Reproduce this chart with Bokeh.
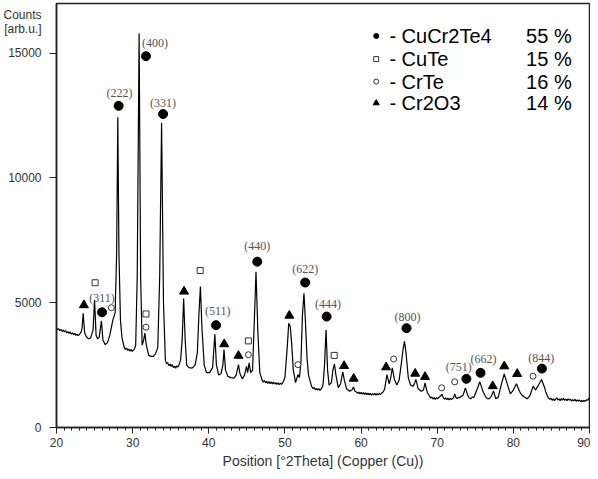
from bokeh.plotting import figure
from bokeh.models import Range1d, FixedTicker
from bokeh.core.properties import value
from bokeh.embed import file_html
from bokeh.resources import INLINE

# ---- diffraction pattern ----
two_theta = [20.0, 20.15, 20.3, 20.45, 20.6, 20.75, 20.9, 21.05, 21.2, 21.35,
             21.5, 21.65, 21.8, 21.95, 22.1, 22.25, 22.4, 22.55, 22.7, 22.85,
             23.0, 23.2, 23.35, 23.5, 23.7, 23.9, 24.2, 24.5, 24.8, 25.0,
             25.2, 25.4, 25.6, 25.9, 26.1, 26.4, 26.7, 27.0, 27.4, 27.7,
             27.9, 28.05, 28.2, 28.4, 28.6, 28.9, 29.05, 29.2, 29.35, 29.5,
             29.65, 29.8, 29.95, 30.1, 30.25, 30.4, 30.6, 30.85, 31.05, 31.25,
             31.45, 31.6, 31.8, 32.1, 32.4, 32.7, 33.0, 33.3, 33.55, 33.8,
             34.05, 34.3, 34.45, 34.6, 34.75, 34.9, 35.05, 35.2, 35.35, 35.5,
             35.65, 35.8, 35.95, 36.1, 36.3, 36.5, 36.7, 36.9, 37.1, 37.4,
             37.8, 38.2, 38.5, 38.7, 38.9, 39.1, 39.4, 39.7, 40.1, 40.5,
             40.8, 41.0, 41.3, 41.6, 41.85, 42.0, 42.2, 42.5, 42.9, 43.3,
             43.6, 43.9, 44.1, 44.4, 44.7, 44.95, 45.1, 45.3, 45.5, 45.75,
             45.95, 46.2, 46.45, 46.7, 47.0, 47.15, 47.3, 47.45, 47.6, 47.75,
             47.9, 48.05, 48.2, 48.35, 48.5, 48.65, 48.8, 48.95, 49.1, 49.25,
             49.4, 49.55, 49.7, 49.85, 50.0, 50.3, 50.5, 50.7, 50.9, 51.1,
             51.4, 51.7, 51.9, 52.1, 52.3, 52.5, 52.7, 52.9, 53.1, 53.5,
             53.7, 53.85, 54.0, 54.15, 54.3, 54.45, 54.6, 54.75, 54.9, 55.0,
             55.2, 55.4, 55.6, 55.8, 56.1, 56.3, 56.5, 56.7, 57.0, 57.3,
             57.6, 57.8, 58.1, 58.5, 58.8, 59.0, 59.2, 59.4, 59.55, 59.7,
             59.85, 60.0, 60.15, 60.3, 60.45, 60.6, 60.75, 60.9, 61.05, 61.2,
             61.35, 61.5, 61.65, 61.8, 61.95, 62.1, 62.25, 62.4, 62.55, 62.7,
             62.85, 63.0, 63.1, 63.4, 63.7, 63.9, 64.1, 64.4, 64.7, 65.0,
             65.3, 65.5, 65.7, 65.9, 66.2, 66.5, 66.8, 67.0, 67.2, 67.5,
             67.9, 68.2, 68.4, 68.7, 69.0, 69.15, 69.3, 69.45, 69.6, 69.75,
             69.9, 70.05, 70.2, 70.4, 70.6, 70.8, 70.95, 71.1, 71.25, 71.4,
             71.55, 71.7, 71.85, 72.0, 72.15, 72.3, 72.45, 72.6, 72.8, 73.0,
             73.4, 73.7, 74.0, 74.2, 74.4, 74.6, 74.8, 75.2, 75.6, 76.0,
             76.4, 76.6, 76.8, 77.1, 77.4, 77.7, 77.85, 78.0, 78.4, 78.8,
             79.2, 79.6, 80.0, 80.4, 80.8, 81.05, 81.3, 81.55, 81.8, 82.0,
             82.2, 82.6, 82.9, 83.3, 83.7, 84.1, 84.3, 84.5, 84.65, 84.8,
             84.95, 85.1, 85.25, 85.4, 85.55, 85.7, 85.85, 86.0, 86.15, 86.3,
             86.45, 86.6, 86.75, 86.9, 87.05, 87.2, 87.35, 87.5, 87.65, 87.8,
             87.95, 88.1, 88.25, 88.4, 88.55, 88.7, 88.85, 89.0, 89.15, 89.3,
             89.45, 89.6, 89.75, 89.9, 90.0]
counts = [3980, 3920, 3960, 3880, 3930, 3850, 3900, 3830, 3880, 3790,
          3840, 3770, 3830, 3740, 3790, 3720, 3770, 3690, 3740, 3680,
          3730, 3800, 3950, 4580, 3800, 3650, 3550, 3600, 3900, 5110,
          3700, 3550, 3600, 4270, 3500, 3320, 3400, 3700, 4300, 4600,
          7000, 12430, 7000, 4300, 3600, 3200, 3130, 3180, 3090, 3140,
          3060, 3120, 3050, 3100, 3150, 3300, 6000, 15790, 6000, 3300,
          3500, 3780, 3300, 2900, 2850, 2850, 2950, 3200, 6000, 12210,
          5000, 2700, 2560, 2600, 2480, 2540, 2450, 2520, 2400, 2460,
          2380, 2470, 2420, 2520, 2700, 3500, 5170, 3500, 2500, 2400,
          2380, 2500, 3000, 4500, 5650, 4000, 2500, 2200, 2200, 2400,
          3740, 2500, 2100, 2150, 2500, 3120, 2300, 2050, 2000, 1980,
          2100, 2520, 2150, 1950, 2100, 2450, 2200, 2590, 2200, 2300,
          4000, 6240, 3800, 2200, 1900, 1820, 1880, 1790, 1850, 1770,
          1840, 1760, 1830, 1750, 1820, 1740, 1800, 1730, 1790, 1720,
          1780, 1730, 1800, 1880, 2000, 3200, 4180, 4050, 3300, 2300,
          1800, 2120, 2000, 2600, 4500, 5380, 4200, 2800, 2100, 1650,
          1560, 1600, 1510, 1570, 1500, 1560, 1490, 1550, 1620, 1700,
          2500, 3915, 2300, 1700, 1800, 2300, 2550, 2100, 1600, 1750,
          2230, 1900, 1550, 1450, 1500, 1620, 1450, 1420, 1370, 1420,
          1350, 1410, 1340, 1400, 1330, 1390, 1320, 1380, 1310, 1370,
          1300, 1360, 1310, 1370, 1300, 1360, 1310, 1370, 1320, 1380,
          1400, 1480, 1550, 2120, 1750, 2000, 2390, 1900, 1700, 1900,
          2600, 3100, 3450, 3000, 2000, 1700, 1650, 1750, 1925, 1550,
          1450, 1500, 1790, 1400, 1250, 1180, 1220, 1140, 1200, 1130,
          1190, 1150, 1200, 1250, 1330, 1200, 1140, 1190, 1120, 1180,
          1110, 1170, 1120, 1150, 1200, 1350, 1200, 1160, 1210, 1200,
          1300, 1590, 1300, 1180, 1150, 1220, 1200, 1500, 1830, 1450,
          1200, 1160, 1150, 1250, 1460, 1150, 1190, 1200, 1700, 2150,
          1750, 1350, 1500, 1750, 1450, 1320, 1250, 1200, 1150, 1210,
          1300, 1660, 1500, 1700, 1925, 1600, 1380, 1250, 1180, 1130,
          1170, 1090, 1150, 1080, 1140, 1180, 1100, 1150, 1070, 1160,
          1100, 1170, 1090, 1140, 1080, 1150, 1100, 1130, 1060, 1120,
          1070, 1130, 1050, 1110, 1060, 1100, 1030, 1090, 1040, 1080,
          1050, 1110, 1090, 1160, 1200]
assert len(two_theta) == len(counts)

# ---- phase markers ----
cucr2te4_x = [25.98, 28.16, 31.75, 34.0, 40.95, 46.37, 52.66, 55.48, 65.97, 73.83, 75.69, 83.75]
cucr2te4_y = [4616, 12890, 14880, 12560, 4100, 6645, 5810, 4445, 3980, 1950, 2190, 2360]
cute_x = [25.07, 31.75, 38.87, 45.2, 56.47]
cute_y = [5800, 4550, 6290, 3470, 2890]
crte_x = [27.2, 31.75, 45.2, 51.7, 64.28, 70.58, 72.3, 82.58]
crte_y = [4800, 4020, 2915, 2520, 2745, 1590, 1830, 2057]
cr2o3_x = [23.6, 36.75, 42.03, 43.9, 50.58, 57.77, 59.03, 63.29, 67.1, 68.4, 77.29, 78.81, 80.5]
cr2o3_y = [4905, 5450, 3340, 2877, 4485, 2467, 1960, 2415, 2160, 2030, 1660, 2455, 2150]

# ---- hkl labels ----
hkl_text = ["(311)", "(222)", "(400)", "(331)", "(511)", "(440)", "(622)", "(444)", "(800)",
            "(751)", "(662)", "(844)"]
hkl_x = [25.98, 28.28, 32.92, 34.0, 41.17, 46.37, 52.66, 55.65, 66.1, 72.83, 76.08, 83.66]
hkl_y = [5170, 13420, 15390, 13000, 4655, 7290, 6340, 4935, 4445, 2415, 2745, 2785]

# ---- legend ----
phase_names = ["- CuCr2Te4", "- CuTe", "- CrTe", "- Cr2O3"]
phase_pct = ["55 %", "15 %", "16 %", "14 %"]
leg_y = [15690, 14762, 13859, 13000]
leg_mx = 61.99
leg_tx = 63.72
leg_px = 81.67

x_ticks = [20, 30, 40, 50, 60, 70, 80, 90]
y_ticks = [0, 5000, 10000, 15000]
y_title_pos = [16513, 15956]
y_title = ["Counts", "[arb.u.]"]

p = figure(width=590, height=471, output_backend="svg", toolbar_location=None,
           x_range=Range1d(20, 90), y_range=Range1d(0, 16990),
           min_border_left=54, min_border_right=1, min_border_top=3, min_border_bottom=41)
p.background_fill_color = "white"
p.border_fill_color = "white"
p.outline_line_color = "#222222"
p.outline_line_width = 1.5
p.grid.visible = False

p.xaxis.ticker = FixedTicker(ticks=x_ticks, minor_ticks=list(range(20, 91)))
# y: labels from major ticks (incl. the axis title lines), tick marks drawn as "minor" ticks
p.yaxis.ticker = FixedTicker(ticks=y_ticks + y_title_pos, minor_ticks=y_ticks)
p.yaxis.major_label_overrides = {y_title_pos[0]: y_title[0], y_title_pos[1]: y_title[1]}
for ax in (p.xaxis[0], p.yaxis[0]):
    ax.axis_line_color = "#222222"
    ax.axis_line_width = 1.5
    ax.major_tick_line_color = "#222222"
    ax.minor_tick_line_color = "#222222"
    ax.major_label_text_font = "Liberation Sans"
    ax.major_label_text_font_size = "12px"
    ax.major_label_text_color = "#333333"
p.xaxis.major_tick_out = 6
p.xaxis.major_tick_in = 0
p.xaxis.minor_tick_out = 3
p.xaxis.minor_tick_in = 0
p.xaxis.major_label_standoff = 4
p.yaxis.major_tick_out = 0
p.yaxis.major_tick_in = 0
p.yaxis.minor_tick_out = 7
p.yaxis.minor_tick_in = 0
p.yaxis.major_label_standoff = 8

p.xaxis.axis_label = "Position [°2Theta] (Copper (Cu))"
p.xaxis.axis_label_text_font = "Liberation Sans"
p.xaxis.axis_label_text_font_size = "14px"
p.xaxis.axis_label_text_font_style = "normal"
p.xaxis.axis_label_text_color = "#333333"
p.xaxis.axis_label_standoff = 3

p.line(two_theta, counts, line_color="black", line_width=1.2)

p.scatter(cucr2te4_x, cucr2te4_y, marker="circle", size=9, fill_color="black", line_color="black")
p.scatter(cute_x, cute_y, marker="square", size=6, fill_color="white", line_color="#333333",
          line_width=1)
p.scatter(crte_x, crte_y, marker="circle", size=6, fill_color="white", line_color="#333333",
          line_width=1)
p.scatter(cr2o3_x, cr2o3_y, marker="triangle", size=9, fill_color="black", line_color="black")

p.text(hkl_x, hkl_y, text=hkl_text, text_font=value("Liberation Serif"), text_font_size="12px",
       text_color="#555555", text_align="center", text_baseline="middle")

# custom legend
p.scatter([leg_mx], [leg_y[0]], marker="circle", size=5, fill_color="black", line_color="black")
p.scatter([leg_mx], [leg_y[1]], marker="square", size=5, fill_color="white", line_color="#333333")
p.scatter([leg_mx], [leg_y[2]], marker="circle", size=5, fill_color="white", line_color="#333333")
p.scatter([leg_mx], [leg_y[3]], marker="triangle", size=6, fill_color="black", line_color="black")
p.text([leg_tx] * 4, leg_y, text=phase_names, text_font=value("Liberation Sans"),
       text_font_size="20px", text_color="black", text_align="left", text_baseline="middle")
p.text([leg_px] * 4, leg_y, text=phase_pct, text_font=value("Liberation Sans"),
       text_font_size="20px", text_color="black", text_align="left", text_baseline="middle")

open("out.html", "w").write(file_html(p, INLINE))
